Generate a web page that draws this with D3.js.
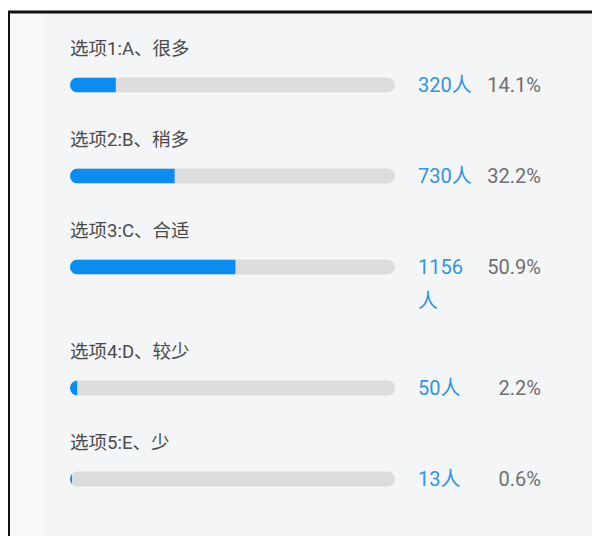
<!DOCTYPE html>
<html>
<head>
<meta charset="utf-8">
<script src="https://cdn.jsdelivr.net/npm/d3@7"></script>
<style>
  html, body { margin: 0; padding: 0; background: #fff; }
  svg { display: block; font-family: Roboto, "Noto Sans CJK SC", sans-serif; }
</style>
</head>
<body>
<svg id="chart" width="592" height="536"></svg>
<script>
// survey options
const labels = ["选项1:A、很多", "选项2:B、稍多", "选项3:C、合适", "选项4:D、较少", "选项5:E、少"];
const counts = [320, 730, 1156, 50, 13];
const percents = [14.1, 32.2, 50.9, 2.2, 0.6];
const unit = "人";

const svg = d3.select("#chart");
const W = +svg.attr("width"), H = +svg.attr("height");

// panel + frame
svg.append("rect").attr("x", 9).attr("y", 12).attr("width", W - 9).attr("height", H - 12).attr("fill", "#f4f5f7");
svg.append("rect").attr("x", 9).attr("y", 12).attr("width", 36).attr("height", H - 12).attr("fill", "#f8f8f9");
svg.append("line").attr("x1", 8).attr("x2", W).attr("y1", 12).attr("y2", 12).attr("stroke", "#111").attr("stroke-width", 3);
svg.append("line").attr("x1", 9).attr("x2", 9).attr("y1", 11).attr("y2", H).attr("stroke", "#111").attr("stroke-width", 2);

const x = d3.scaleLinear().domain([0, 100]).range([70, 395]);
const barH = 15;
const rowPitch = 91, wrapExtra = 30, labelToBar = 36;
const countX = 418, countColW = 58, pctRight = 541;
const valueSize = 20;

// measure count text to decide wrapping
const probe = svg.append("text").attr("font-size", valueSize);
const wraps = counts.map(c => {
  probe.text(c + unit);
  return probe.node().getComputedTextLength() > countColW;
});
probe.remove();

// row tops from cumulative heights
let acc = 49;
const rowY = counts.map((c, i) => {
  const y = acc;
  acc += rowPitch + (wraps[i] ? wrapExtra : 0);
  return y;
});

const rows = svg.selectAll("g.row")
  .data(labels.map((l, i) => ({ label: l, count: counts[i], pct: percents[i], wrap: wraps[i], y: rowY[i], i })))
  .join("g")
  .attr("class", "row");

rows.append("text")
  .attr("x", x(0))
  .attr("y", d => d.y)
  .attr("dy", "0.35em")
  .attr("font-size", 18.5)
  .attr("fill", "#4a4a4a")
  .text(d => d.label);

const defs = svg.append("defs");
defs.selectAll("clipPath")
  .data(rows.data())
  .join("clipPath")
  .attr("id", d => "clip" + d.i)
  .append("rect")
  .attr("x", x(0))
  .attr("y", d => d.y + labelToBar - barH / 2)
  .attr("width", x(100) - x(0))
  .attr("height", barH)
  .attr("rx", barH / 2);

rows.append("rect")
  .attr("x", x(0))
  .attr("y", d => d.y + labelToBar - barH / 2)
  .attr("width", x(100) - x(0))
  .attr("height", barH)
  .attr("rx", barH / 2)
  .attr("fill", "#dcdcdc");

rows.append("rect")
  .attr("clip-path", d => `url(#clip${d.i})`)
  .attr("x", x(0))
  .attr("y", d => d.y + labelToBar - barH / 2)
  .attr("width", d => x(d.pct) - x(0))
  .attr("height", barH)
  .attr("fill", "#0b8df0");

const countText = rows.append("text")
  .attr("x", countX)
  .attr("y", d => d.y + labelToBar)
  .attr("dy", "0.35em")
  .attr("font-size", valueSize)
  .attr("fill", "#3394d8");

countText.each(function(d) {
  const t = d3.select(this);
  if (d.wrap) {
    t.append("tspan").attr("x", countX).text(d.count);
    t.append("tspan").attr("x", countX).attr("dy", 34).text(unit);
  } else {
    t.text(d.count + unit);
  }
});

rows.append("text")
  .attr("x", pctRight)
  .attr("y", d => d.y + labelToBar)
  .attr("dy", "0.35em")
  .attr("text-anchor", "end")
  .attr("font-size", valueSize)
  .attr("fill", "#6f6f6f")
  .text(d => d.pct + "%");
</script>
</body>
</html>
